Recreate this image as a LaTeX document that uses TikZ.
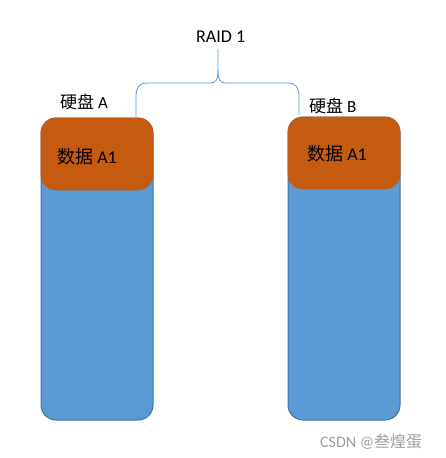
\documentclass[tikz,border=0pt]{standalone}
\usepackage{fontspec}
\setmainfont{Carlito}
\newfontfamily\cjk{Noto Sans CJK SC}
\definecolor{diskblue}{HTML}{5B9BD5}
\definecolor{diskedge}{HTML}{41719C}
\definecolor{dataorange}{HTML}{C55A11}
\definecolor{bracecol}{HTML}{5B9BD5}
\begin{document}
\begin{tikzpicture}[x=1pt,y=-1pt,
  disk/.style={draw=diskedge,fill=diskblue,line width=1pt,rounded corners=15pt},
  datablk/.style={fill=dataorange,draw=dataorange,line width=0.6pt,rounded corners=15pt},
  lbl/.style={font=\fontsize{17}{20}\selectfont,inner sep=0pt,anchor=base west},
]
\useasboundingbox (0,0) rectangle (445,458);
% disks
\draw[disk] (41,118) rectangle (153,420);
\draw[datablk] (41,118) rectangle (153,190);
\draw[disk] (288,117) rectangle (400,420);
\draw[datablk] (288,117) rectangle (400,189);
% labels
\node[lbl] (la) at (60,108) {{\cjk 硬盘} A};
\node[lbl] (lb) at (309,112) {{\cjk 硬盘} B};
\node[lbl,font=\fontsize{18}{21}\selectfont] (da) at (57,163) {{\cjk 数据} A1};
\node[lbl,font=\fontsize{18}{21}\selectfont] (db) at (307,160) {{\cjk 数据} A1};
\node[lbl,font=\fontsize{18}{21}\selectfont] (raid) at (196,42) {RAID 1};
% brace
\coordinate (bl) at (136,117);
\coordinate (br) at (299,115);
\coordinate (bm) at (218,49);
\draw[bracecol,line width=0.8pt] (bl) -- (136,96) .. controls (136,88) and (139,83) .. (147,83)
  -- (210,83) .. controls (216,83) and (218,80) .. (218,70) -- (bm);
\draw[bracecol,line width=0.8pt] (br) -- (299,96) .. controls (299,88) and (296,83) .. (288,83)
  -- (226,83) .. controls (220,83) and (218,80) .. (218,70);
% watermark
\node[lbl,text=gray!75,font=\fontsize{16}{19}\selectfont] (wm) at (320,447) {CSDN @{\cjk 叁煌蛋}};
\end{tikzpicture}
\end{document}
